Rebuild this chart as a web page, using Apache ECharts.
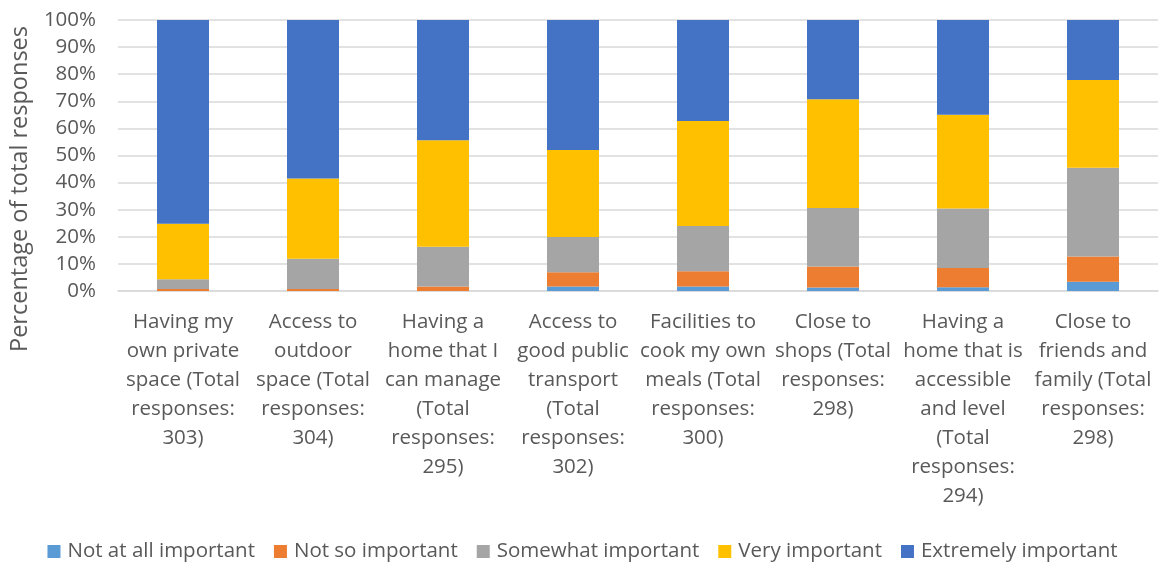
<!DOCTYPE html>
<html><head><meta charset="utf-8">
<script src="https://cdn.jsdelivr.net/npm/echarts@6/dist/echarts.min.js"></script>
<style>html,body{margin:0;padding:0;background:#fff}#c{width:1165px;height:563px}</style>
</head><body><div id="c"></div>
<script>
const categories = [
  "Having my\nown private\nspace (Total\nresponses:\n303)",
  "Access to\noutdoor\nspace (Total\nresponses:\n304)",
  "Having a\nhome that I\ncan manage\n(Total\nresponses:\n295)",
  "Access to\ngood public\ntransport\n(Total\nresponses:\n302)",
  "Facilities to\ncook my own\nmeals (Total\nresponses:\n300)",
  "Close to\nshops (Total\nresponses:\n298)",
  "Having a\nhome that is\naccessible\nand level\n(Total\nresponses:\n294)",
  "Close to\nfriends and\nfamily (Total\nresponses:\n298)"
];
const notAtAll   = [0.0, 0.0, 0.0, 1.7, 1.7, 1.3, 1.4, 3.4];
const notSo      = [0.7, 0.7, 1.7, 5.2, 5.6, 7.7, 7.1, 9.3];
const somewhat   = [3.6, 11.2, 14.6, 13.0, 16.7, 21.6, 21.9, 32.8];
const very       = [20.5, 29.6, 39.3, 32.1, 38.7, 40.2, 34.6, 32.4];
const extremely  = [75.2, 58.5, 44.4, 48.0, 37.3, 29.2, 35.0, 22.1];
const seriesNames = ["Not at all important","Not so important","Somewhat important","Very important","Extremely important"];
const yAxisTitle = "Percentage of total responses";
const colors = ["#5B9BD5","#ED7D31","#A5A5A5","#FFC000","#4472C4"];
const font = "'Open Sans', sans-serif";
const dataSets = [notAtAll, notSo, somewhat, very, extremely];
const chart = echarts.init(document.getElementById('c'));
chart.setOption({
  animation: false,
  color: colors,
  textStyle: {fontFamily: font},
  grid: {left: 118, right: 7, top: 20, bottom: 272},
  legend: {
    top: 536, left: 'center', itemWidth: 13, itemHeight: 13, itemGap: 19,
    icon: 'rect',
    textStyle: {fontSize: 20.5, color: '#595959', fontFamily: font, padding: [0,0,0,2]},
    data: seriesNames
  },
  graphic: [{
    type: 'text', x: 20, y: 189, rotation: Math.PI / 2,
    style: {text: yAxisTitle, fill: '#595959', font: "23.5px 'Open Sans', sans-serif",
            align: 'center', verticalAlign: 'middle', textAlign: 'center', textVerticalAlign: 'middle'}
  }],
  xAxis: {
    type: 'category', data: categories,
    axisLine: {lineStyle: {color: '#d9d9d9', width: 1.5}},
    axisTick: {show: false},
    axisLabel: {interval: 0, fontSize: 20.5, lineHeight: 29, color: '#595959', margin: 17, fontFamily: font}
  },
  yAxis: {
    type: 'value', min: 0, max: 100, interval: 10,
    axisLabel: {formatter: '{value}%', fontSize: 20.5, color: '#595959', margin: 22, fontFamily: font},
    splitLine: {lineStyle: {color: '#d9d9d9', width: 1.5}},
    axisLine: {show: false}, axisTick: {show: false}
  },
  series: dataSets.map((d, i) => ({
    name: seriesNames[i], type: 'bar', stack: 'total', barWidth: 52,
    data: d
  }))
});
</script></body></html>
